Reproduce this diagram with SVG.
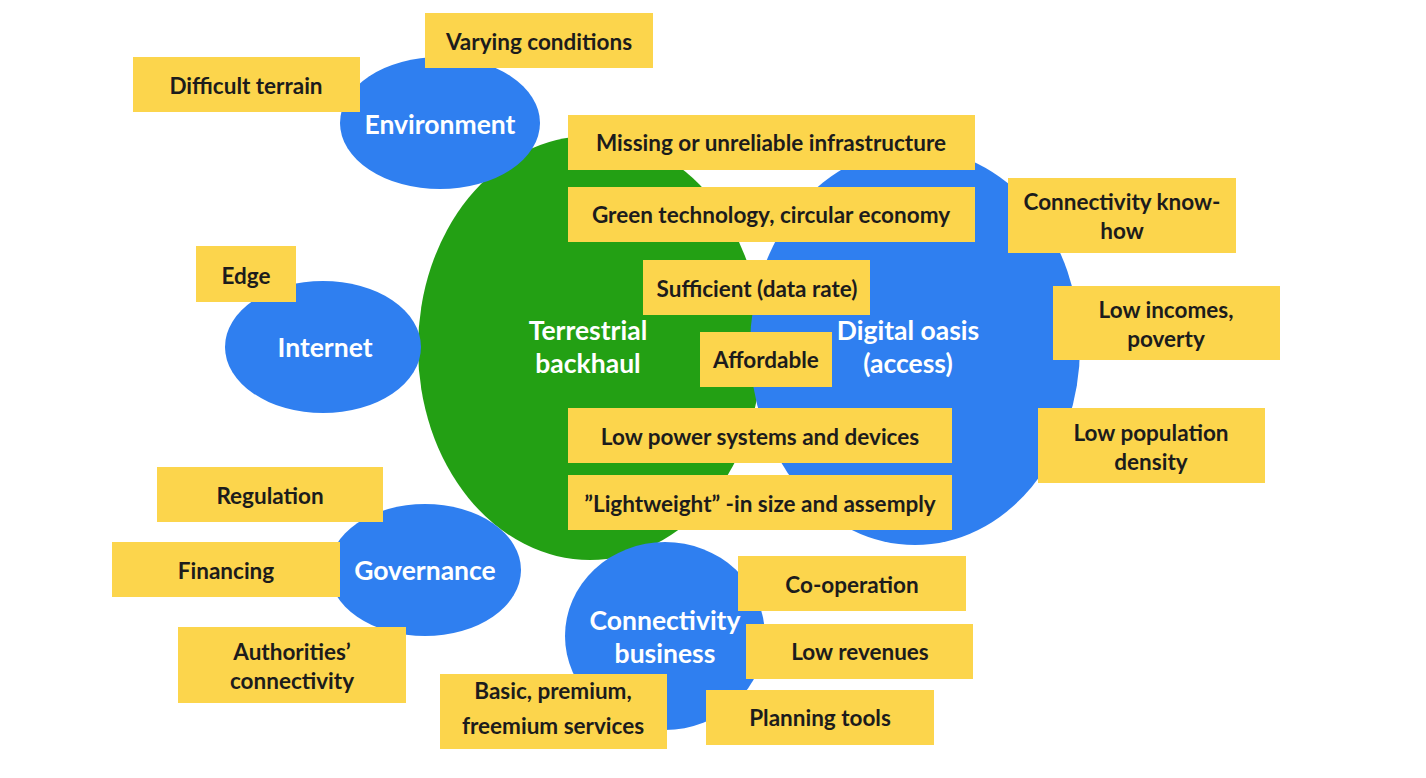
<svg xmlns="http://www.w3.org/2000/svg" width="1426" height="778" viewBox="0 0 1426 778">
<style>
.bg{fill:#ffffff}
.blue{fill:#2f7ff0}
.green{fill:#23a014}
.box{fill:#fcd54c}
.bt{font-family:Lato,"Open Sans","Liberation Sans",sans-serif;font-weight:bold;font-size:22.5px;fill:#1c1c1c;text-anchor:middle;dominant-baseline:central}
.ct{font-family:Lato,"Open Sans","Liberation Sans",sans-serif;font-weight:bold;font-size:26.5px;fill:#ffffff;text-anchor:middle;dominant-baseline:central}
</style>
<rect class="bg" x="0" y="0" width="1426" height="778"/>
<g id="connectors"/>
<g id="terrestrial-backhaul"><ellipse class="green" cx="590" cy="348" rx="172" ry="212"/></g>
<g id="digital-oasis"><ellipse class="blue" cx="915" cy="347" rx="165" ry="198"/></g>
<g id="environment"><ellipse class="blue" cx="440" cy="123" rx="100" ry="66"/><text class="ct" x="440" y="124">Environment</text></g>
<g id="internet"><ellipse class="blue" cx="323" cy="347" rx="98" ry="66"/><text class="ct" x="325" y="347">Internet</text></g>
<g id="governance"><ellipse class="blue" cx="425" cy="570" rx="96" ry="66"/><text class="ct" x="425" y="570">Governance</text></g>
<g id="connectivity-business"><ellipse class="blue" cx="665" cy="636" rx="100" ry="94"/><text class="ct" x="665" y="620">Connectivity</text><text class="ct" x="665" y="653">business</text></g>
<g id="center-labels"><text class="ct" x="588" y="330">Terrestrial</text><text class="ct" x="588" y="363">backhaul</text><text class="ct" x="908" y="330">Digital oasis</text><text class="ct" x="908" y="363">(access)</text></g>
<g id="varying-conditions"><rect class="box" x="425" y="13" width="228" height="55"/><text class="bt" x="539" y="41">Varying conditions</text></g>
<g id="difficult-terrain"><rect class="box" x="133" y="57" width="227" height="55"/><text class="bt" x="246" y="85">Difficult terrain</text></g>
<g id="missing-infrastructure"><rect class="box" x="568" y="115" width="407" height="55"/><text class="bt" x="771" y="142">Missing or unreliable infrastructure</text></g>
<g id="green-technology"><rect class="box" x="568" y="187" width="407" height="55"/><text class="bt" x="771" y="214">Green technology, circular economy</text></g>
<g id="sufficient"><rect class="box" x="643" y="260" width="227" height="55"/><text class="bt" x="757" y="288">Sufficient (data rate)</text></g>
<g id="affordable"><rect class="box" x="700" y="332" width="132" height="55"/><text class="bt" x="766" y="359">Affordable</text></g>
<g id="low-power"><rect class="box" x="568" y="408" width="384" height="55"/><text class="bt" x="760" y="436">Low power systems and devices</text></g>
<g id="lightweight"><rect class="box" x="568" y="475" width="384" height="55"/><text class="bt" x="760" y="503">”Lightweight” -in size and assemply</text></g>
<g id="connectivity-know-how"><rect class="box" x="1008" y="178" width="228" height="75"/><text class="bt" x="1122" y="201">Connectivity know-</text><text class="bt" x="1122" y="230">how</text></g>
<g id="low-incomes"><rect class="box" x="1053" y="286" width="227" height="74"/><text class="bt" x="1166" y="309">Low incomes,</text><text class="bt" x="1166" y="338">poverty</text></g>
<g id="low-population"><rect class="box" x="1038" y="408" width="227" height="75"/><text class="bt" x="1151" y="432">Low population</text><text class="bt" x="1151" y="461">density</text></g>
<g id="edge"><rect class="box" x="196" y="246" width="100" height="56"/><text class="bt" x="246" y="275">Edge</text></g>
<g id="regulation"><rect class="box" x="157" y="467" width="226" height="55"/><text class="bt" x="270" y="495">Regulation</text></g>
<g id="financing"><rect class="box" x="112" y="542" width="228" height="55"/><text class="bt" x="226" y="570">Financing</text></g>
<g id="authorities-connectivity"><rect class="box" x="178" y="627" width="228" height="76"/><text class="bt" x="292" y="651">Authorities’</text><text class="bt" x="292" y="680">connectivity</text></g>
<g id="co-operation"><rect class="box" x="738" y="556" width="228" height="55"/><text class="bt" x="852" y="584">Co-operation</text></g>
<g id="low-revenues"><rect class="box" x="746" y="624" width="227" height="55"/><text class="bt" x="860" y="651">Low revenues</text></g>
<g id="basic-premium"><rect class="box" x="440" y="674" width="227" height="75"/><text class="bt" x="553" y="690">Basic, premium,</text><text class="bt" x="553" y="725">freemium services</text></g>
<g id="planning-tools"><rect class="box" x="706" y="690" width="228" height="55"/><text class="bt" x="820" y="717">Planning tools</text></g>
</svg>
